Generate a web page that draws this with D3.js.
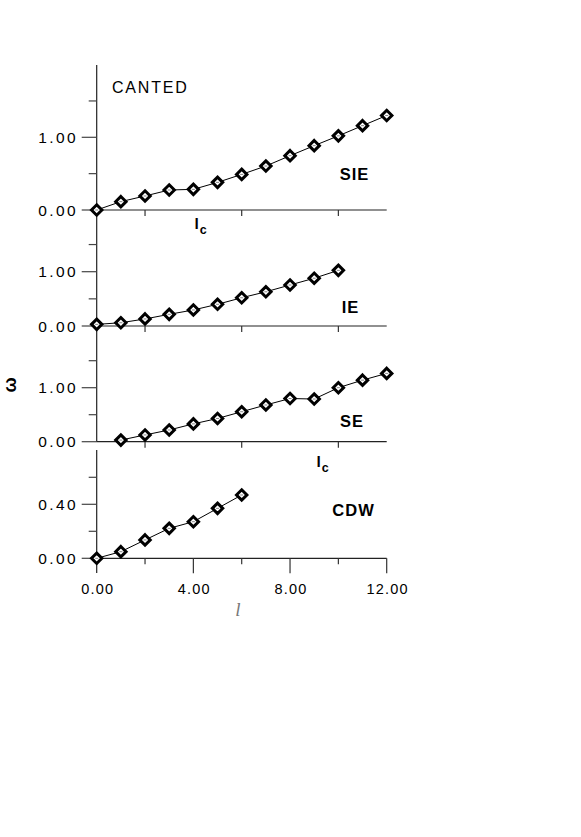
<!DOCTYPE html>
<html><head><meta charset="utf-8">
<script src="https://cdn.jsdelivr.net/npm/d3@7"></script>
<style>
body{margin:0;background:#fff}
svg{display:block}
text{font-family:"Liberation Sans",Arial,Helvetica,sans-serif;fill:#000}
</style>
</head><body>
<svg id="chart" width="581" height="837"></svg>
<script>
// ---- data ----
const sieL = [0,1,2,3,4,5,6,7,8,9,10,11,12];
const sieOmega = [0.00,0.115,0.193,0.275,0.284,0.38,0.49,0.605,0.747,0.885,1.02,1.16,1.30];
const ieL = [0,1,2,3,4,5,6,7,8,9,10];
const ieOmega = [0.03,0.06,0.13,0.215,0.295,0.40,0.52,0.63,0.755,0.88,1.025];
const seL = [1,2,3,4,5,6,7,8,9,10,11,12];
const seOmega = [0.03,0.125,0.217,0.33,0.43,0.555,0.68,0.80,0.79,1.00,1.14,1.265];
const cdwL = [0,1,2,3,4,5,6];
const cdwOmega = [0.00,0.049,0.136,0.222,0.271,0.37,0.469];

const panelNames = ["SIE","IE","SE","CDW"];
const yMajorTicks = [[0,1],[0,1],[0,1],[0,0.4]];
const yMinorTicks = [[0.5,1.5],[0.5,1.5],[0.5,1.5],[0.2,0.6]];
const xMajorTicks = [0,4,8,12];
const xMinorTicks = [2,6,10];
const xTickLabels = ["0.00","4.00","8.00","12.00"];
const titleText = "CANTED";
const xAxisTitle = "l";
const yAxisTitle = "ω";
const criticalLabel = ["l","c"];

// ---- layout ----
const svg = d3.select("#chart");
const x = d3.scaleLinear().domain([0,12]).range([96.7,386.7]);
const panels = [
  {L:sieL, W:sieOmega, zero:210,   topVal:1,   topPx:137.3, band:[65,238],    name:[354.5,174]},
  {L:ieL,  W:ieOmega,  zero:326,   topVal:1,   topPx:271.7, band:[238,350],   name:[350.5,307]},
  {L:seL,  W:seOmega,  zero:441.7, topVal:1,   topPx:387.7, band:[350,441.7], name:[352,421]},
  {L:cdwL, W:cdwOmega, zero:558.3, topVal:0.4, topPx:504.3, band:[450,573],   name:[353.5,510]}
];
const axisColor = "#222";

panels.forEach((p,i)=>{
  const y = d3.scaleLinear().domain([0,p.topVal]).range([p.zero,p.topPx]);
  const g = svg.append("g");
  // y axis line
  g.append("line").attr("x1",x(0)).attr("x2",x(0))
    .attr("y1",p.band[0]).attr("y2",p.band[1])
    .attr("stroke",axisColor).attr("stroke-width",1.2);
  // y major ticks
  g.selectAll(".ymaj").data(yMajorTicks[i]).enter().append("line")
    .attr("x1",x(0)-15).attr("x2",x(0))
    .attr("y1",d=>y(d)).attr("y2",d=>y(d))
    .attr("stroke","#444").attr("stroke-width",1.2);
  g.selectAll(".ymin").data(yMinorTicks[i]).enter().append("line")
    .attr("x1",x(0)-8).attr("x2",x(0))
    .attr("y1",d=>y(d)).attr("y2",d=>y(d))
    .attr("stroke","#444").attr("stroke-width",1.2);
  g.selectAll(".ylab").data(yMajorTicks[i]).enter().append("text")
    .attr("x",78).attr("y",d=>y(d)+5.5)
    .attr("text-anchor","end")
    .style("font-size","15.5px").style("letter-spacing","2.4px")
    .text(d=>d.toFixed(2));
  // x axis line
  g.append("line").attr("x1",x(0)).attr("x2",x(12))
    .attr("y1",y(0)).attr("y2",y(0))
    .attr("stroke",axisColor).attr("stroke-width",1.2);
  // x ticks
  g.selectAll(".xmin").data(xMinorTicks).enter().append("line")
    .attr("x1",d=>x(d)).attr("x2",d=>x(d))
    .attr("y1",y(0)).attr("y2",y(0)+6)
    .attr("stroke","#333").attr("stroke-width",1.2);
  if(i===3){
    g.selectAll(".xmaj").data(xMajorTicks.slice(1)).enter().append("line")
      .attr("x1",d=>x(d)).attr("x2",d=>x(d))
      .attr("y1",y(0)).attr("y2",y(0)+15)
      .attr("stroke","#333").attr("stroke-width",1.2);
    g.selectAll(".xlab").data(xMajorTicks).enter().append("text")
      .attr("x",(d)=>x(d)+1).attr("y",594)
      .attr("text-anchor","middle")
      .style("font-size","14.5px").style("letter-spacing","1.2px")
      .text((d,j)=>xTickLabels[j]);
  }
  // data line
  const pts = p.L.map((l,k)=>[l,p.W[k]]);
  g.append("path").datum(pts)
    .attr("d",d3.line().x(d=>x(d[0])).y(d=>y(d[1])))
    .attr("fill","none").attr("stroke","#000").attr("stroke-width",1);
  // markers
  const m = g.selectAll(".mk").data(pts).enter().append("g")
    .attr("transform",d=>`translate(${x(d[0])},${y(d[1])})`);
  m.append("path").attr("d","M0,-5.2L5.2,0L0,5.2L-5.2,0Z")
    .attr("fill","#fff").attr("stroke","#000").attr("stroke-width",3)
    .attr("stroke-linejoin","miter");
  m.append("line").attr("x1",-1.5).attr("x2",1.5).attr("y1",0).attr("y2",0)
    .attr("stroke","#888").attr("stroke-width",1);
  // panel name
  g.append("text").attr("x",p.name[0]).attr("y",p.name[1]+6)
    .attr("text-anchor","middle")
    .style("font-size","16.5px").style("font-weight","bold").style("letter-spacing","1px")
    .text(panelNames[i]);
});

// CANTED title
svg.append("text").attr("x",112).attr("y",93)
  .style("font-size","16px").style("letter-spacing","1.8px")
  .text(titleText);

// critical l_c labels
function lc(xp, yp){
  const t = svg.append("text").attr("x",xp).attr("y",yp)
    .style("font-size","15.5px").style("font-weight","bold");
  t.append("tspan").text(criticalLabel[0]);
  t.append("tspan").attr("dy",5).attr("dx",1).style("font-size","12.5px").text(criticalLabel[1]);
}
lc(194.5,229);
lc(316.5,467);

// axis titles
svg.append("text").attr("x",238).attr("y",616)
  .attr("text-anchor","middle")
  .style("font-family","'Liberation Serif','DejaVu Serif',serif")
  .style("font-style","italic").style("font-size","19px").style("fill","#777")
  .text(xAxisTitle);
svg.append("text").attr("transform","translate(16,385) rotate(-90)")
  .attr("text-anchor","middle")
  .style("font-size","18px").style("font-weight","bold")
  .text(yAxisTitle);
</script>
</body></html>
